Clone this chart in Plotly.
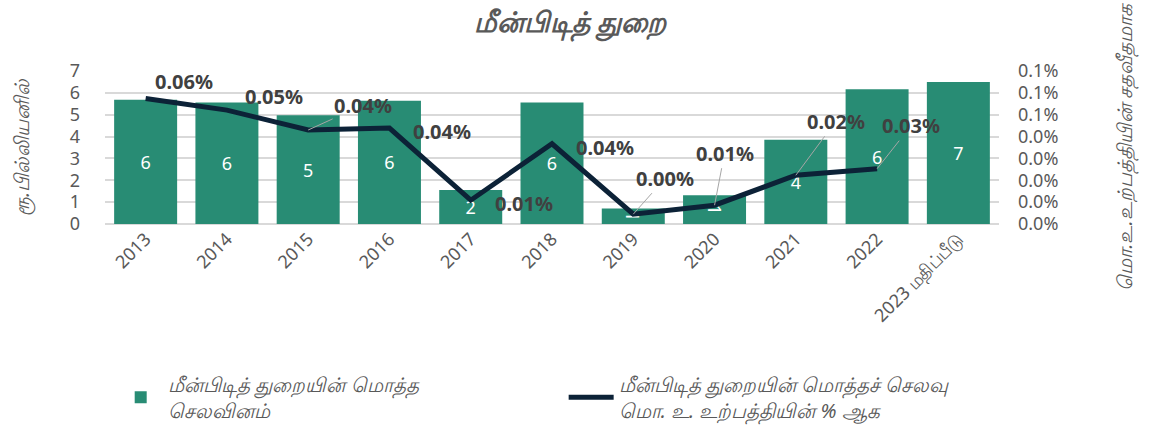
import plotly.graph_objects as go

# தரவு
years = ["2013", "2014", "2015", "2016", "2017", "2018", "2019", "2020", "2021", "2022",
         "2023 மதிப்பீடு"]
spending = [5.68, 5.56, 4.98, 5.64, 1.55, 5.56, 0.71, 1.32, 3.85, 6.17, 6.50]  # ரூ. பில்லியன்
pct_gdp = [0.0574, 0.0521, 0.043, 0.0439, 0.0109, 0.0367, 0.0045, 0.0086, 0.0223, 0.0253, None]
bar_labels = ["6", "6", "5", "6", "2", "6", "1", "1", "4", "6", "7"]
pct_labels = ["0.06%", "0.05%", "0.04%", "0.04%", "0.01%", "0.04%", "0.00%", "0.01%", "0.02%",
              "0.03%", None]

title = "மீன்பிடித் துறை"
left_title = "ரூ.பில்லியனில்"
right_title = "மொ.உ.உற்பத்தியின் சதவீதமாக"
bar_name = "மீன்பிடித் துறையின் மொத்த<br>செலவினம்"
line_name = "மீன்பிடித் துறையின் மொத்தச் செலவு<br>மொ. உ. உற்பத்தியின் % ஆக"

GREEN = "#288C74"
NAVY = "#0C2237"
GREY = "#595959"
FONT = "Noto Sans, Liberation Sans, sans-serif"

# label offsets (px) relative to each line point; arrow = leader line
label_pos = [(38, -17, False), (47, -14, False), (55, -25, True), (53, 3, False),
             (53, 3, False), (53, 4, False), (32, -36, True), (10, -52, True),
             (40, -54, True), (34, -43, True)]

fig = go.Figure()

fig.add_trace(go.Bar(
    x=years, y=spending, name=f"<i>{bar_name}</i>", legend="legend",
    marker=dict(color=GREEN, line=dict(width=0)),
    text=bar_labels, textposition="inside", insidetextanchor="middle",
    constraintext="none",
    textfont=dict(color="white", size=18, family=FONT),
))

fig.add_trace(go.Scatter(
    x=years, y=pct_gdp, name=f"<i>{line_name}</i>", legend="legend2",
    yaxis="y2", mode="lines", line=dict(color=NAVY, width=5), connectgaps=False,
))

# category axis: annotations are placed by category index
for i, (v, lab, (dx, dy, arrow)) in enumerate(zip(pct_gdp, pct_labels, label_pos)):
    if v is None:
        continue
    fig.add_annotation(
        x=i, y=v, xref="x", yref="y2", text=f"<b>{lab}</b>",
        showarrow=arrow, arrowhead=0, arrowwidth=1, arrowcolor="#A6A6A6",
        ax=dx, ay=dy, standoff=0,
        xshift=0 if arrow else dx, yshift=0 if arrow else -dy,
        font=dict(size=20, color="#404040", family=FONT),
    )

legend_style = dict(orientation="h", xref="container", yref="container", y=0.097,
                    xanchor="left", yanchor="middle", font=dict(size=20, color=GREY),
                    itemwidth=45, bgcolor="rgba(0,0,0,0)")

fig.update_layout(
    width=1167, height=440,
    margin=dict(l=105, r=168, t=71, b=216),
    paper_bgcolor="white", plot_bgcolor="white",
    font=dict(family=FONT, color=GREY),
    bargap=0.225,
    title=dict(text=f"<b><i>{title}</i></b>", x=0.52, xref="paper", xanchor="center",
               y=0.95, yref="container", yanchor="middle", font=dict(size=28, color=GREY)),
    xaxis=dict(type="category", categoryorder="array", categoryarray=years,
               range=[-0.5, len(years) - 0.5], autorange=False, automargin=False,
               tickangle=-45, tickfont=dict(size=18, color=GREY),
               showline=False, ticks=""),
    yaxis=dict(range=[0, 7], dtick=1, showgrid=True, gridcolor="#D9D9D9", gridwidth=1.5,
               zeroline=True, zerolinecolor="#D9D9D9", zerolinewidth=2, automargin=False,
               tickfont=dict(size=18, color=GREY), ticklabelstandoff=24,
               title=dict(text=f"<i>{left_title}</i>", font=dict(size=20, color=GREY),
                          standoff=34)),
    yaxis2=dict(range=[0, 0.07], dtick=0.01, overlaying="y", side="right",
                showgrid=False, zeroline=False, tickformat=".1f", ticksuffix="%",
                automargin=False,
                tickfont=dict(size=18, color=GREY), ticklabelstandoff=18,
                title=dict(text=f"<i>{right_title}</i>", font=dict(size=20, color=GREY),
                           standoff=60)),
    legend=dict(x=0.097, **legend_style),
    legend2=dict(x=0.483, **legend_style),
    showlegend=True,
)

# drop the page's default body margin so the chart sits at the window's origin
fig.write_html("out.html", config={"displayModeBar": False},
               post_script="document.body.style.margin='0';")
